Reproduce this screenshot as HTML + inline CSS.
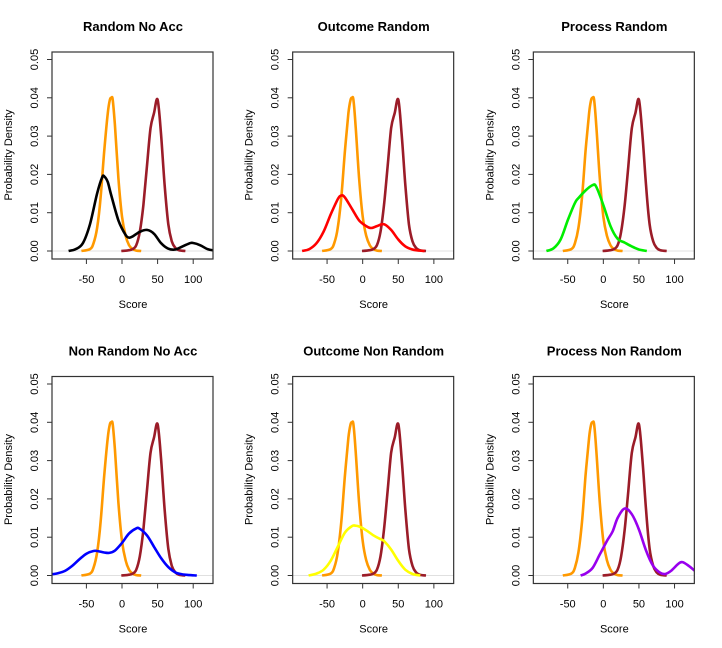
<!DOCTYPE html>
<html><head><meta charset="utf-8"><style>
body{margin:0;background:#fff;}
svg{display:block;font-family:"Liberation Sans",Arial,sans-serif;}
</style></head><body>
<svg id="chart" width="722" height="648" viewBox="0 0 722 648"></svg>
<script>
const titles=["Random No Acc","Outcome Random","Process Random","Non Random No Acc","Outcome Non Random","Process Non Random"];
const colors=["#000000","#ff0000","#00ee00","#0000ff","#ffff00","#9900ee"];
const orangeX=[-57,-45,-40,-35,-30,-25,-20,-17,-15,-13,-10,-5,0,5,10,15,20,27];
const orangeY=[0,0.0005,0.002,0.006,0.014,0.026,0.036,0.0395,0.040,0.0395,0.033,0.019,0.009,0.004,0.0015,0.0005,0.0001,0];
const brownX=[-1,10,15,20,25,30,35,40,45,50,55,60,65,70,75,80,89];
const brownY=[0,0.0002,0.0005,0.0015,0.005,0.012,0.022,0.032,0.036,0.0395,0.030,0.017,0.007,0.0025,0.0008,0.0002,0];
const s1X=[-75,-65,-55,-45,-35,-28,-25,-20,-15,-5,5,10,15,25,35,45,55,65,75,85,95,100,110,120,130];
const s1Y=[0,0.0005,0.002,0.007,0.015,0.0192,0.0195,0.018,0.0145,0.008,0.0042,0.0035,0.0038,0.005,0.0055,0.0045,0.002,0.0006,0.0004,0.0012,0.002,0.0021,0.0015,0.0005,0.0001];
const s2X=[-85,-75,-65,-55,-45,-35,-30,-25,-15,-5,5,12,20,30,40,50,60,70,80,87];
const s2Y=[0,0.0005,0.002,0.005,0.0095,0.0135,0.0145,0.014,0.011,0.008,0.0065,0.006,0.0065,0.007,0.0055,0.003,0.0012,0.0004,0.0001,0];
const s3X=[-80,-70,-60,-50,-40,-35,-25,-15,-10,0,10,20,30,40,50,61];
const s3Y=[0,0.0007,0.003,0.008,0.0125,0.0138,0.0158,0.0172,0.0168,0.012,0.0065,0.0032,0.0022,0.0012,0.0004,0];
const s4X=[-100,-90,-80,-70,-60,-50,-40,-35,-25,-18,-10,0,10,20,25,35,45,55,65,75,85,95,105];
const s4Y=[0.0003,0.0006,0.0012,0.0025,0.0042,0.0057,0.0064,0.0064,0.006,0.0059,0.0065,0.0085,0.011,0.0123,0.0122,0.0105,0.0075,0.0045,0.0022,0.0008,0.0003,0.0001,0];
const s5X=[-76,-65,-55,-45,-35,-25,-15,-10,-5,5,15,25,30,40,50,60,70,81];
const s5Y=[0,0.0005,0.0015,0.0038,0.0075,0.0112,0.0129,0.013,0.0128,0.0118,0.0105,0.0095,0.009,0.0068,0.0038,0.0015,0.0004,0];
const s6X=[-32,-25,-15,-5,5,13,20,30,40,50,60,70,80,87,95,105,111,120,130];
const s6Y=[0,0.0005,0.002,0.0055,0.009,0.0115,0.015,0.0175,0.016,0.012,0.0065,0.0025,0.0007,0.0004,0.0012,0.003,0.0035,0.0025,0.001];
const seriesX=[s1X,s2X,s3X,s4X,s5X,s6X];
const seriesY=[s1Y,s2Y,s3Y,s4Y,s5Y,s6Y];
const xTicks=[-50,0,50,100];
const yTicks=[0,0.01,0.02,0.03,0.04,0.05];
const yTickLabels=["0.00","0.01","0.02","0.03","0.04","0.05"];

const svg=document.getElementById('chart');
const NS="http://www.w3.org/2000/svg";
function mk(tag,attrs,parent){const e=document.createElementNS(NS,tag);for(const k in attrs)e.setAttribute(k,attrs[k]);parent.appendChild(e);return e;}

function smoothPath(pts){
  let d="M"+pts[0][0].toFixed(1)+","+pts[0][1].toFixed(1);
  for(let i=0;i<pts.length-1;i++){
    const p0=pts[Math.max(0,i-1)],p1=pts[i],p2=pts[i+1],p3=pts[Math.min(pts.length-1,i+2)];
    const c1=[p1[0]+(p2[0]-p0[0])/6,p1[1]+(p2[1]-p0[1])/6];
    const c2=[p2[0]-(p3[0]-p1[0])/6,p2[1]-(p3[1]-p1[1])/6];
    d+=" C"+c1[0].toFixed(1)+","+c1[1].toFixed(1)+" "+c2[0].toFixed(1)+","+c2[1].toFixed(1)+" "+p2[0].toFixed(1)+","+p2[1].toFixed(1);
  }
  return d;
}

for(let i=0;i<6;i++){
  const c=i%3,r=Math.floor(i/3);
  const ox=c*240.67,oy=r*324.5;
  const xs=v=>ox+122+v*0.712;
  const ys=v=>oy+251-v*3830;
  const L=ox+52,R=ox+213,T=oy+52,B=oy+259;
  const g=mk('g',{},svg);
  
  
  const cp=mk('clipPath',{id:'clip'+i},g);
  mk('rect',{x:L,y:T,width:R-L,height:B-T},cp);
  const t=mk('text',{x:ox+133,y:oy+31,'text-anchor':'middle','font-size':'13','font-weight':'bold',fill:'#000'},g);
  t.textContent=titles[i];
  
  
  mk('line',{x1:L,x2:R,y1:ys(0),y2:ys(0),stroke:'#e0e0e0','stroke-width':1},g);
  const cg=mk('g',{'clip-path':'url(#clip'+i+')',fill:'none','stroke-width':2.6,'stroke-linejoin':'round'},g);
  const curves=[[orangeX,orangeY,'#ff9900','reference-low-curve'],[brownX,brownY,'#9b1c28','reference-high-curve'],[seriesX[i],seriesY[i],colors[i],'series-curve']];
  for(const [X,Y,col,nm] of curves){
    const pts=X.map((x,k)=>[xs(x),ys(Y[k])]);
    const p=mk('path',{d:smoothPath(pts),stroke:col},cg);
    
    
  }
  const box=mk('rect',{x:L,y:T,width:R-L,height:B-T,fill:'none',stroke:'#333','stroke-width':1.2},g);
  
  
  yTicks.forEach((v,k)=>{
    const y=ys(v);
    mk('line',{x1:L-5,x2:L,y1:y,y2:y,stroke:'#333'},g);
    const tl=mk('text',{x:ox+38,y:y,'font-size':'11','text-anchor':'middle',transform:'rotate(-90 '+(ox+38)+' '+y+')',fill:'#000'},g);
    tl.textContent=yTickLabels[k];
    
    
  });
  xTicks.forEach(v=>{
    const x=xs(v);
    mk('line',{x1:x,x2:x,y1:B,y2:B+5,stroke:'#333'},g);
    const tl=mk('text',{x:x,y:oy+283,'font-size':'11','text-anchor':'middle',fill:'#000'},g);
    tl.textContent=String(v);
    
    
  });
  const xl=mk('text',{x:ox+133,y:oy+308,'font-size':'11','text-anchor':'middle',fill:'#000'},g);
  xl.textContent='Score';
  
  
  const yy=oy+155;
  const yl=mk('text',{x:ox+12,y:yy,'font-size':'11','text-anchor':'middle',transform:'rotate(-90 '+(ox+12)+' '+yy+')',fill:'#000'},g);
  yl.textContent='Probability Density';
  
  
}
</script>
</body></html>
